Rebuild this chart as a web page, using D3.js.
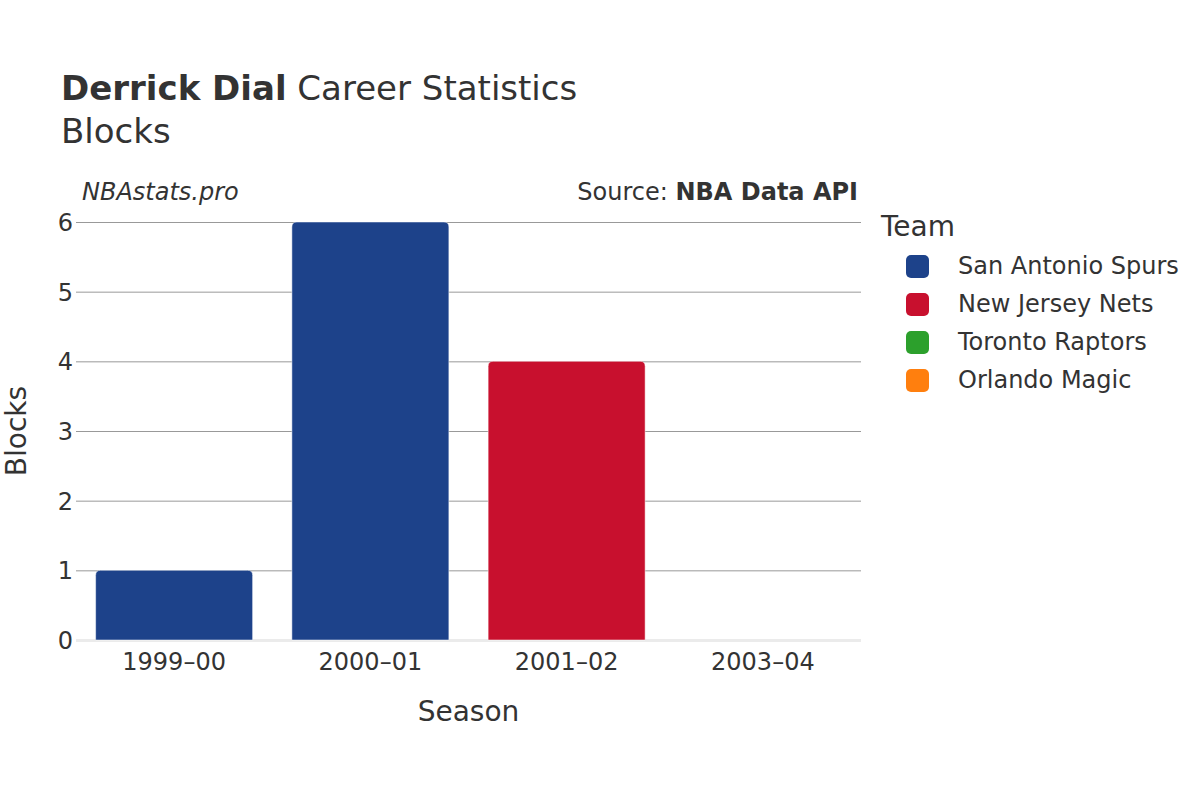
<!DOCTYPE html>
<html>
<head>
<meta charset="utf-8">
<script src="https://cdn.jsdelivr.net/npm/d3@7"></script>
<style>
  body { margin: 0; background: #fff; }
  svg { display: block; }
  svg text { font-family: "DejaVu Sans", sans-serif; }
</style>
</head>
<body>
<svg id="chart" width="1200" height="800"></svg>
<script>
const seasons = ["1999–00", "2000–01", "2001–02", "2003–04"];
const blocks = [1, 6, 4, 0];
const seasonTeams = ["San Antonio Spurs", "San Antonio Spurs", "New Jersey Nets", "Orlando Magic"];
const teams = ["San Antonio Spurs", "New Jersey Nets", "Toronto Raptors", "Orlando Magic"];
const teamColors = ["#1d428a", "#c8102e", "#2ca02c", "#ff7f0e"];
const yTicks = [0, 1, 2, 3, 4, 5, 6];

const svg = d3.select("#chart");
const m = { left: 76, right: 861, top: 222, bottom: 640 };

const x = d3.scaleBand().domain(seasons).range([m.left, m.right]).paddingInner(0.2).paddingOuter(0.1);
const y = d3.scaleLinear().domain([0, 6]).range([m.bottom, m.top]);
const color = d3.scaleOrdinal().domain(teams).range(teamColors);

// Title
const title = svg.append("text").attr("x", 61).attr("y", 100).attr("fill", "#333")
  .style("font-size", "34px");
title.append("tspan").attr("font-weight", "bold").text("Derrick Dial");
title.append("tspan").text(" Career Statistics");
svg.append("text").attr("x", 61).attr("y", 143).attr("fill", "#333")
  .style("font-size", "34px").text("Blocks");

// Source / watermark
svg.append("text").attr("x", 82).attr("y", 200).attr("fill", "#333")
  .style("font-size", "24px").style("font-style", "italic").text("NBAstats.pro");
const src = svg.append("text").attr("x", 858).attr("y", 200).attr("fill", "#333")
  .attr("text-anchor", "end").style("font-size", "24px");
src.append("tspan").text("Source: ");
src.append("tspan").attr("font-weight", "bold").text("NBA Data API");

// Gridlines
const yAxis = d3.axisLeft(y).tickValues(yTicks).tickSize(-(m.right - m.left)).tickPadding(8).tickFormat(d3.format("d"));
const gy = svg.append("g").attr("transform", `translate(${m.left},0)`).call(yAxis);
gy.attr("font-family", null);
gy.select(".domain").remove();
gy.selectAll(".tick line").attr("stroke", "#999").attr("stroke-width", 1)
  .filter(d => d === 0).attr("stroke", "#ebebeb").attr("stroke-width", 3);
gy.selectAll(".tick text").attr("fill", "#333").style("font-size", "24px")
  .attr("x", -3).attr("dy", "0.35em");

// Bars with rounded top corners
const r = 5;
function barPath(x0, w, yTop, yBot) {
  const rr = Math.min(r, (yBot - yTop), w / 2);
  return `M${x0},${yBot} L${x0},${yTop + rr} Q${x0},${yTop} ${x0 + rr},${yTop} L${x0 + w - rr},${yTop} Q${x0 + w},${yTop} ${x0 + w},${yTop + rr} L${x0 + w},${yBot} Z`;
}
svg.append("g").selectAll("path").data(seasons.map((s, i) => ({ s, v: blocks[i], t: seasonTeams[i] })).filter(d => d.v > 0))
  .join("path")
  .attr("d", d => barPath(x(d.s), x.bandwidth(), y(d.v), y(0)))
  .attr("fill", d => color(d.t))
  .attr("stroke", "#fff").attr("stroke-width", 0.5);

// X axis
const xAxis = d3.axisBottom(x).tickSize(0).tickPadding(10);
const gx = svg.append("g").attr("transform", `translate(0,${m.bottom})`).call(xAxis);
gx.attr("font-family", null);
gx.select(".domain").remove();
gx.selectAll(".tick text").attr("fill", "#333").style("font-size", "24px").attr("dy", "0.85em");

// Axis titles
svg.append("text").attr("x", (m.left + m.right) / 2).attr("y", 721).attr("text-anchor", "middle")
  .attr("fill", "#333").style("font-size", "28px").text("Season");
svg.append("text").attr("transform", `translate(26,${(m.top + m.bottom) / 2}) rotate(-90)`)
  .attr("text-anchor", "middle").attr("fill", "#333").style("font-size", "28px").text("Blocks");

// Legend
svg.append("text").attr("x", 881).attr("y", 236).attr("fill", "#333").style("font-size", "28px").text("Team");
const lg = svg.append("g").selectAll("g").data(teams).join("g")
  .attr("transform", (d, i) => `translate(906,${266 + i * 38})`);
lg.append("rect").attr("x", 0).attr("y", -11).attr("width", 23).attr("height", 23).attr("rx", 5)
  .attr("fill", d => color(d));
lg.append("text").attr("x", 52).attr("y", 0).attr("dy", "0.35em").attr("fill", "#333")
  .style("font-size", "24px").text(d => d);
</script>
</body>
</html>
